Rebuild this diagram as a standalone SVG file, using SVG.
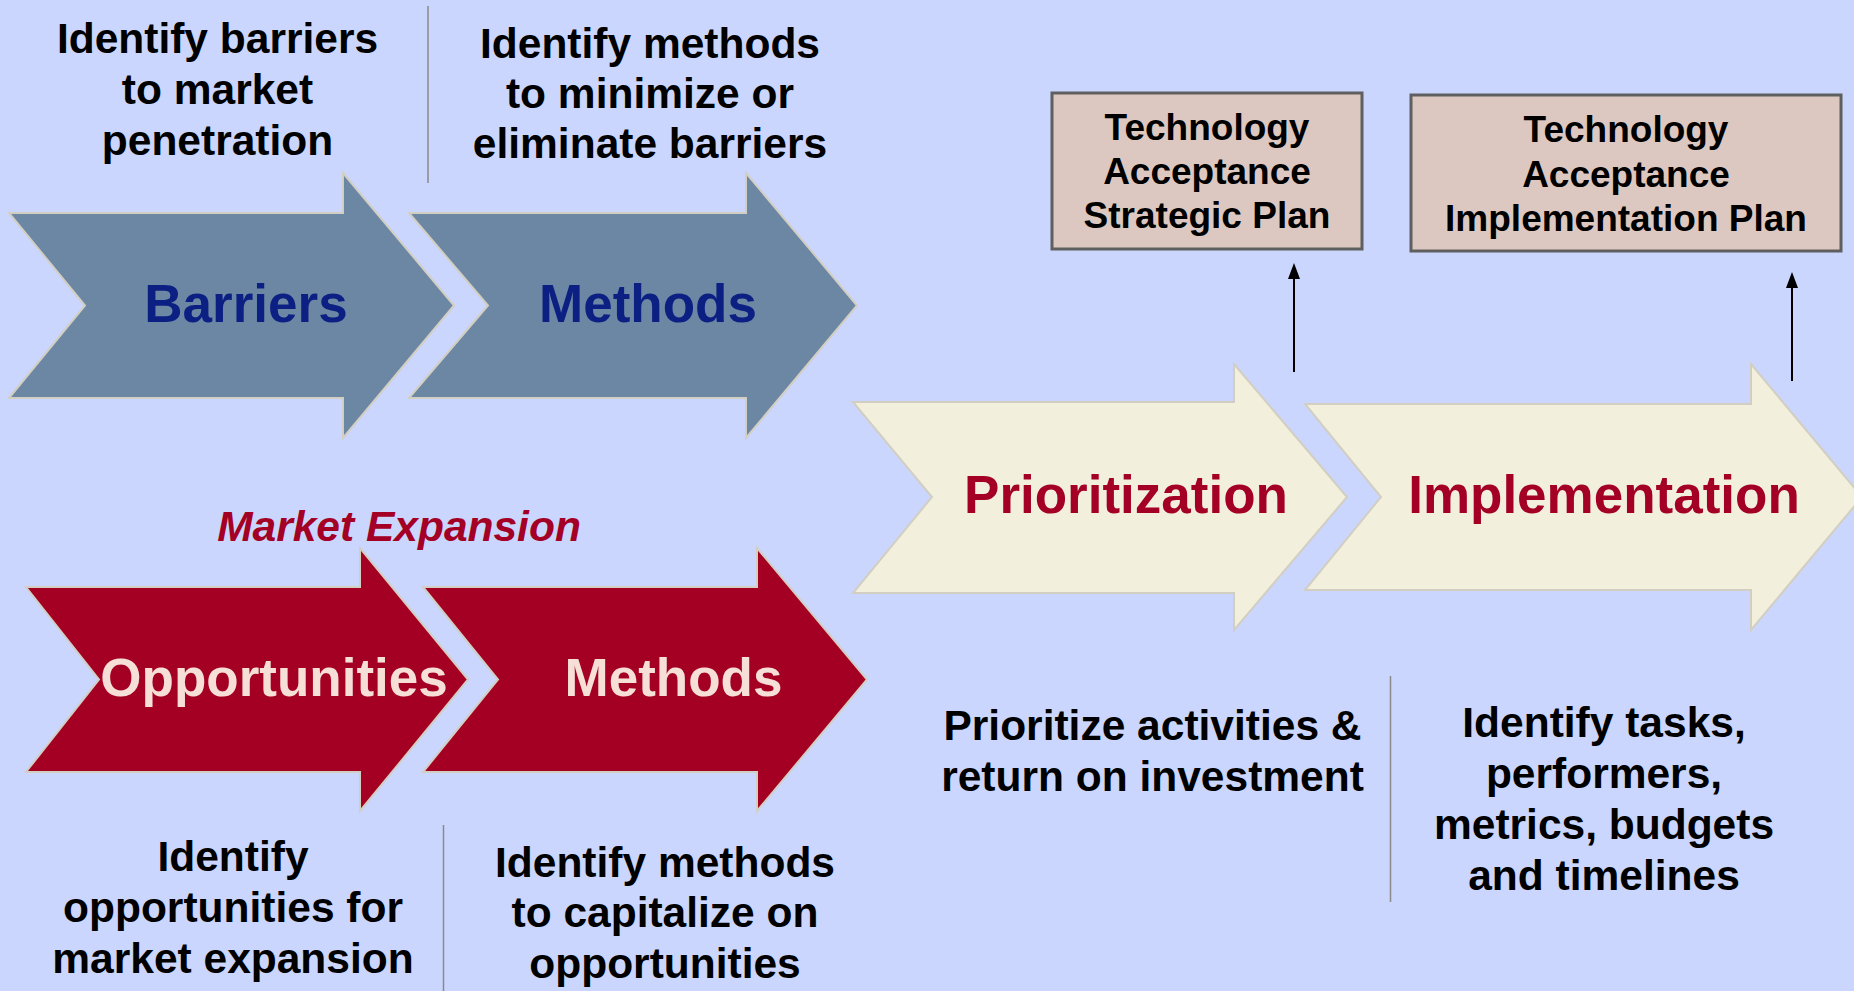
<svg xmlns="http://www.w3.org/2000/svg" width="1854" height="991" viewBox="0 0 1854 991">
<defs>
<marker id="ah" markerUnits="userSpaceOnUse" markerWidth="16" markerHeight="12" refX="4" refY="6" orient="auto" viewBox="0 0 16 12">
<path d="M0,0 L16,6 L0,12 Z" fill="#000"/>
</marker>
</defs>
<style>
.bg{fill:#cad6fd}
.ar{stroke:#d2cec2;stroke-width:2;stroke-linejoin:miter}
.blue{fill:#6c87a3}
.red{fill:#a40024}
.cream{fill:#f2f0dd}
.t{font-family:"Liberation Sans",Arial,sans-serif;font-weight:bold;text-anchor:middle}
.big{font-size:53px}
.navy{fill:#0c1f82}
.crim{fill:#a40026}
.pink{fill:#f5dfd7}
.desc{font-size:42.5px;fill:#000}
.box{fill:#dcc8c0;stroke:#5f5f5f;stroke-width:3}
.boxt{font-size:37px;fill:#000}
.sep{stroke:#8a8a8a;stroke-width:1.5}
.conn{stroke:#000;stroke-width:2;fill:none}
</style>
<rect class="bg" x="0" y="0" width="1854" height="991"/>

<g id="barriers">
<polygon class="ar blue" points="9,213 343,213 343,173 454,305.5 343,438 343,398 9,398 85,305.5"/>
<text class="t big navy" x="246" y="322">Barriers</text>
</g>
<g id="methods-top">
<polygon class="ar blue" points="409,213 746,213 746,173 857,305.5 746,438 746,398 409,398 488,305.5"/>
<text class="t big navy" x="648" y="322">Methods</text>
</g>
<g id="prioritization">
<polygon class="ar cream" points="853,402 1234,402 1234,364 1347,497 1234,630 1234,593 853,593 932,497"/>
<text class="t big crim" x="1126" y="513">Prioritization</text>
</g>
<g id="implementation">
<polygon class="ar cream" points="1305,404 1751,404 1751,364 1862,497 1751,630 1751,590 1305,590 1381,497"/>
<text class="t big crim" x="1604" y="513">Implementation</text>
</g>
<g id="opportunities">
<polygon class="ar red" points="26,587 360,587 360,548 468,679.5 360,811 360,772 26,772 99,679.5"/>
<text class="t big pink" x="274" y="696">Opportunities</text>
</g>
<g id="methods-bottom">
<polygon class="ar red" points="423,587 757,587 757,548 867,679.5 757,811 757,772 423,772 498,679.5"/>
<text class="t big pink" x="673.5" y="696">Methods</text>
</g>

<g id="strategic-plan">
<rect class="box" x="1052" y="93" width="310" height="156"/>
<text class="t boxt" x="1207"><tspan x="1207" y="139.5">Technology</tspan><tspan x="1207" y="184">Acceptance</tspan><tspan x="1207" y="228">Strategic Plan</tspan></text>
</g>
<g id="implementation-plan">
<rect class="box" x="1411" y="95" width="430" height="156"/>
<text class="t boxt" x="1626"><tspan x="1626" y="142">Technology</tspan><tspan x="1626" y="186.5">Acceptance</tspan><tspan x="1626" y="231">Implementation Plan</tspan></text>
</g>

<g id="labels">
<text class="t desc"><tspan x="217.5" y="53">Identify barriers</tspan><tspan x="217.5" y="104">to market</tspan><tspan x="217.5" y="155">penetration</tspan></text>
<text class="t desc"><tspan x="650" y="58">Identify methods</tspan><tspan x="650" y="108">to minimize or</tspan><tspan x="650" y="158">eliminate barriers</tspan></text>
<text class="t crim" style="font-size:42.5px;font-style:italic" x="399" y="541">Market Expansion</text>
<text class="t desc"><tspan x="233" y="871">Identify</tspan><tspan x="233" y="922">opportunities for</tspan><tspan x="233" y="973">market expansion</tspan></text>
<text class="t desc"><tspan x="665" y="877">Identify methods</tspan><tspan x="665" y="927">to capitalize on</tspan><tspan x="665" y="978">opportunities</tspan></text>
<text class="t desc"><tspan x="1152.5" y="740">Prioritize activities &amp;</tspan><tspan x="1152.5" y="791">return on investment</tspan></text>
<text class="t desc"><tspan x="1604" y="737">Identify tasks,</tspan><tspan x="1604" y="788">performers,</tspan><tspan x="1604" y="839">metrics, budgets</tspan><tspan x="1604" y="890">and timelines</tspan></text>
</g>

<g id="separators">
<line class="sep" x1="428" y1="6" x2="428" y2="183"/>
<line class="sep" x1="443.5" y1="825" x2="443.5" y2="991"/>
<line class="sep" x1="1390.5" y1="676" x2="1390.5" y2="902"/>
</g>

<g id="connectors">
<line class="conn" x1="1294" y1="372" x2="1294" y2="275" marker-end="url(#ah)"/>
<line class="conn" x1="1792" y1="381" x2="1792" y2="284" marker-end="url(#ah)"/>
</g>
</svg>
